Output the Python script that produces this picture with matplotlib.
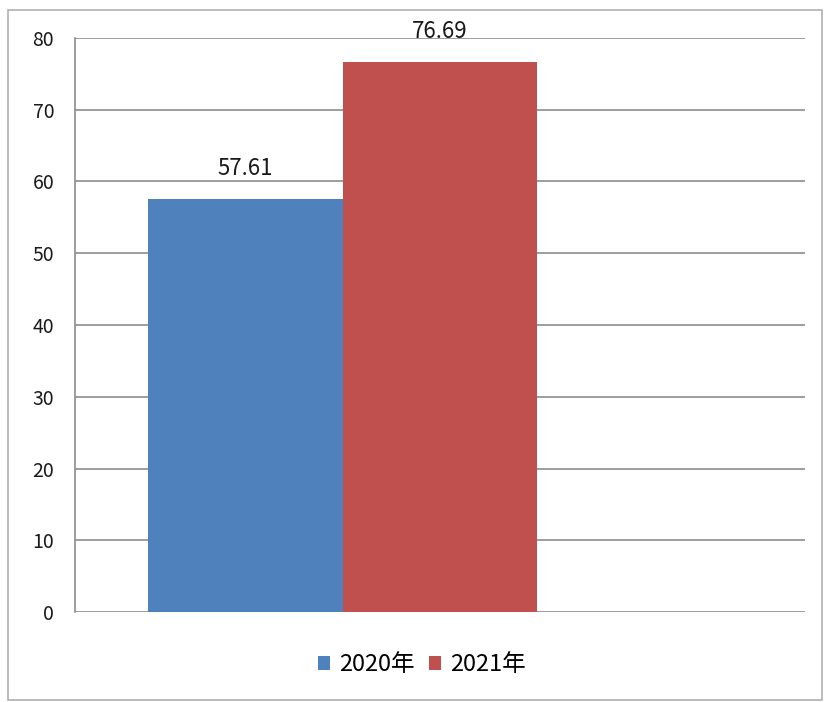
import matplotlib
matplotlib.use("Agg")
import matplotlib.pyplot as plt
from matplotlib.patches import Rectangle

plt.rcParams['font.family'] = ['Noto Sans CJK SC', 'DejaVu Sans']

series = ["2020年", "2021年", ""]
values = [57.61, 76.69, None]
colors = ["#4F81BD", "#C0504D", "#9BBB59"]
yticks = [0, 10, 20, 30, 40, 50, 60, 70, 80]

fig = plt.figure(figsize=(8.24, 7.02), dpi=100)
ax = fig.add_axes([0.091, 0.128, 0.886, 0.818])

w = 0.8 / 3
for i, (name, v, c) in enumerate(zip(series, values, colors)):
    if v is None:
        continue
    x = (i - 1) * w
    ax.bar(x, v, width=w, color=c, label=name, zorder=3)
    ax.annotate("{:.2f}".format(v), (x, v), xytext=(0, 22),
                textcoords="offset points", ha="center", va="center",
                fontsize=16, color="#1a1a1a")

ax.set_xlim(-0.5, 0.5)
ax.set_ylim(0, 80)
ax.set_yticks(yticks)
ax.set_xticks([])
ax.yaxis.grid(True, color="#8c8c8c", linewidth=1.2, zorder=0)
ax.tick_params(axis="y", length=0, pad=15, labelsize=14, labelcolor="#1a1a1a")
for s in ["top", "right", "bottom"]:
    ax.spines[s].set_visible(False)
ax.spines["left"].set_color("#8c8c8c")
ax.spines["left"].set_linewidth(1.2)

fig.legend(loc="center", bbox_to_anchor=(0.512, 0.053), ncol=2, frameon=False,
           fontsize=17, handlelength=0.5, handleheight=0.5, handletextpad=0.4,
           columnspacing=0.6)

fig.patches.append(Rectangle((8 / 824, 2 / 702), 814 / 824, 690 / 702,
                             transform=fig.transFigure, fill=False,
                             edgecolor="#b0b0b0", linewidth=1.2))

fig.savefig("out.png", dpi=100)
